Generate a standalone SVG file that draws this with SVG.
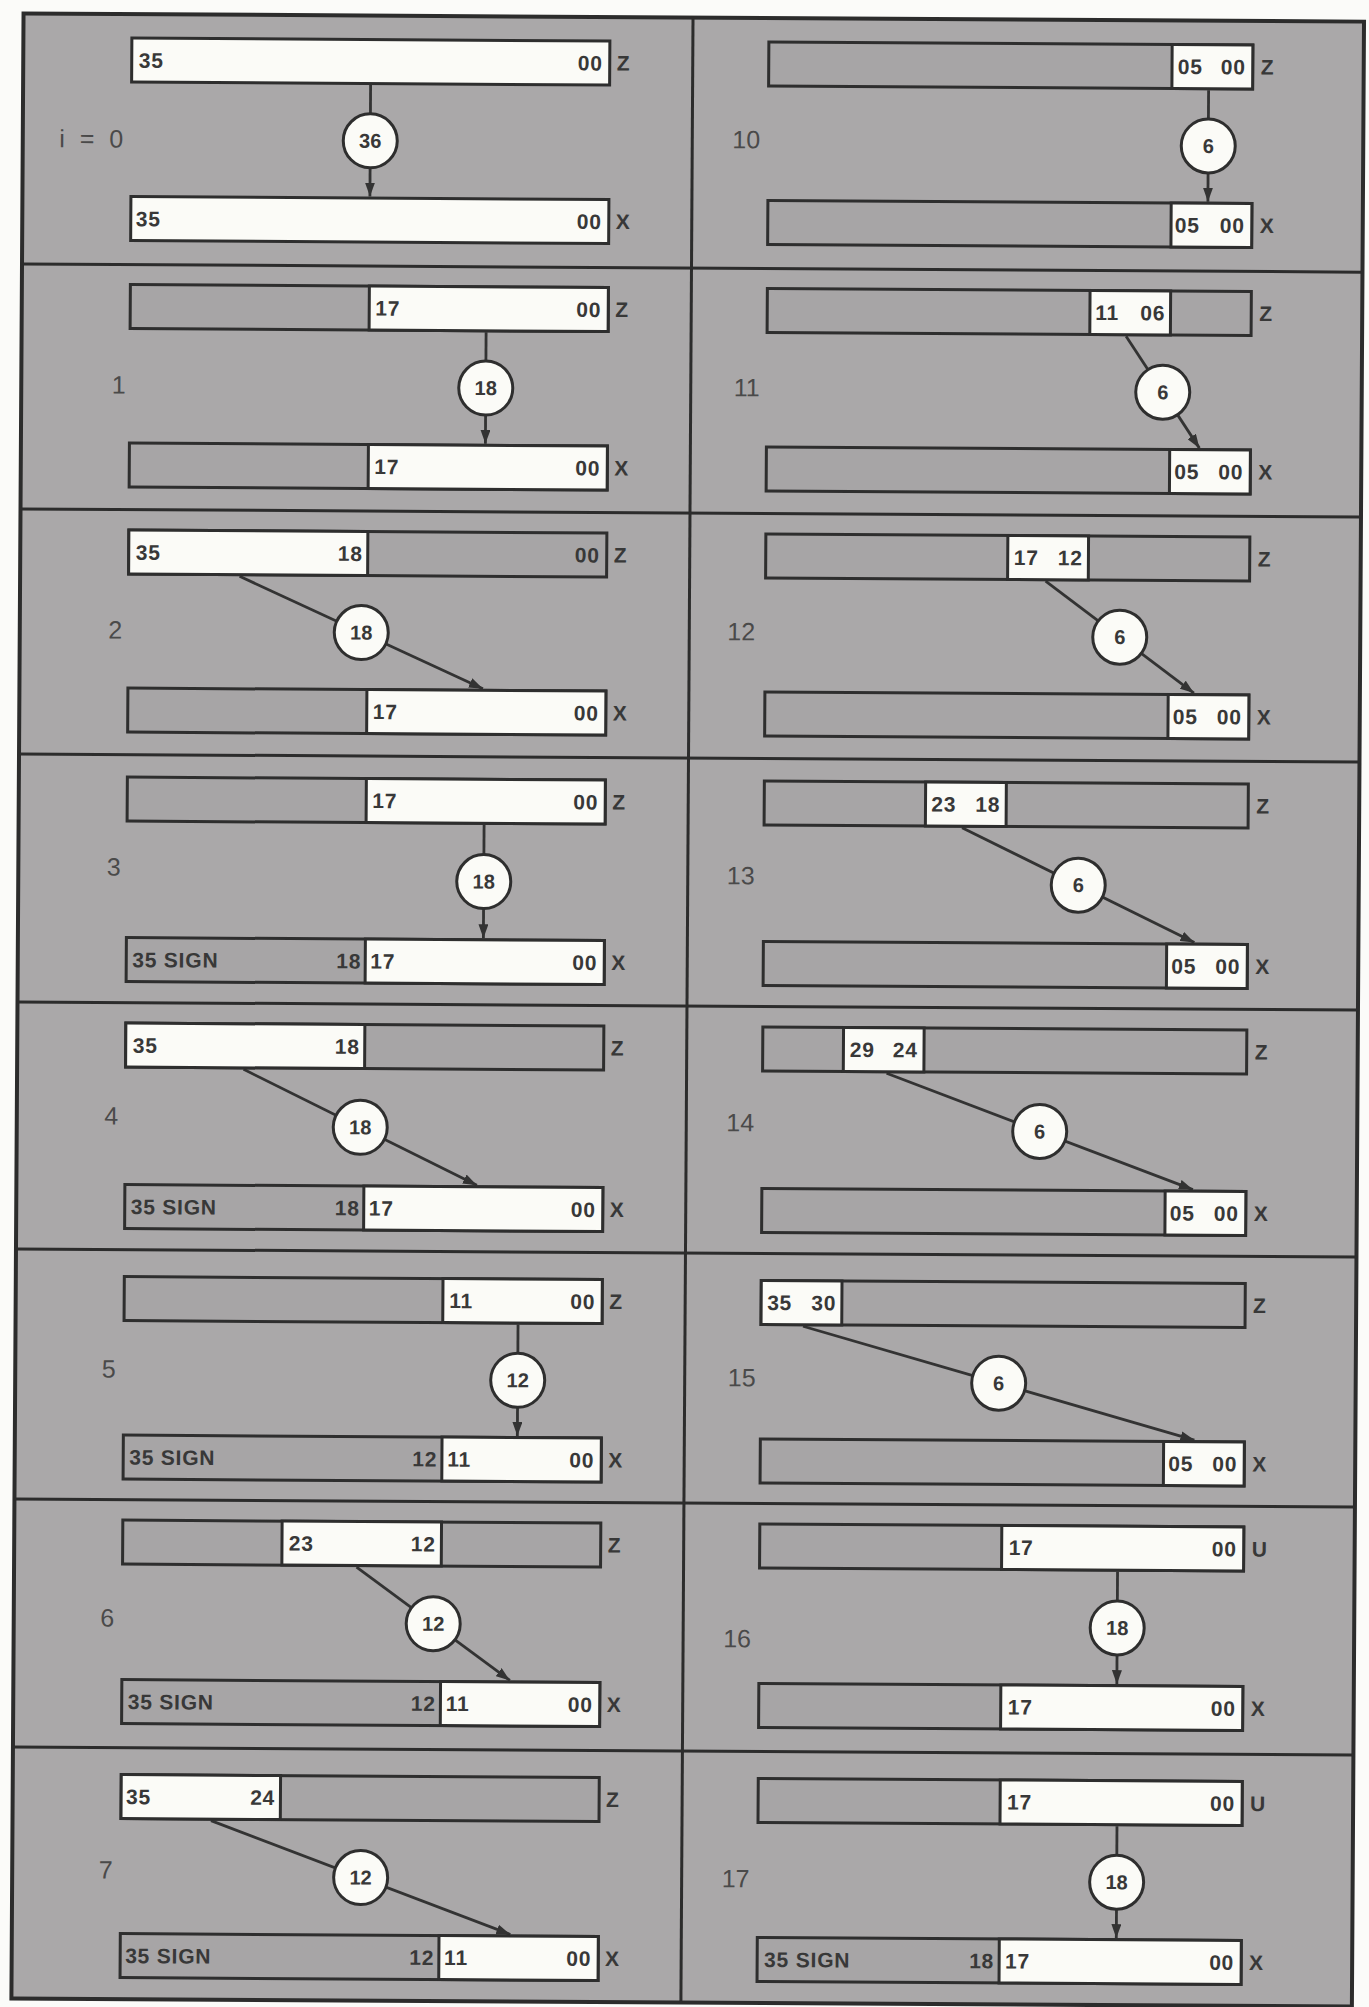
<svg xmlns="http://www.w3.org/2000/svg" width="1369" height="2007" viewBox="0 0 1369 2007">
<style>
.frame{fill:#aaa8a9;stroke:#2c2c2c;stroke-width:4}
.sep{stroke:#2c2c2c;stroke-width:3}
.g{fill:#a7a5a6;stroke:#2e2e2e;stroke-width:3}
.w{fill:#fbfbf7;stroke:#2e2e2e;stroke-width:3}
.t{font-family:"Liberation Sans",Arial,sans-serif;font-size:21px;font-weight:bold;fill:#383838;letter-spacing:0.8px}
.e{text-anchor:end}
.lbl{font-family:"Liberation Sans",Arial,sans-serif;font-size:25px;fill:#4a4a4a}
.m{text-anchor:middle}
.c{fill:#fbfbf7;stroke:#2e2e2e;stroke-width:3}
.ct{font-family:"Liberation Sans",Arial,sans-serif;font-size:20px;font-weight:bold;fill:#383838;text-anchor:middle}
.ln{stroke:#333;stroke-width:2.8;fill:none;marker-end:url(#ah)}
</style>
<defs>
<marker id="ah" markerUnits="userSpaceOnUse" markerWidth="14" markerHeight="10" refX="14" refY="5" orient="auto">
<path d="M0,0 L14,5 L0,10 z" fill="#333"/>
</marker>
</defs>
<rect x="0" y="0" width="1369" height="2007" fill="#fbfbf9"/>
<g transform="rotate(0.35 684.5 1003.5)">
<g id="frame">
<rect class="frame" x="17.5" y="17.5" width="1340.5" height="1985"/>
<line class="sep" x1="687" y1="17.5" x2="687" y2="2002.5"/>
<line class="sep" x1="17.5" y1="268" x2="1358" y2="268"/>
<line class="sep" x1="17.5" y1="513" x2="1358" y2="513"/>
<line class="sep" x1="17.5" y1="758" x2="1358" y2="758"/>
<line class="sep" x1="17.5" y1="1006" x2="1358" y2="1006"/>
<line class="sep" x1="17.5" y1="1253" x2="1358" y2="1253"/>
<line class="sep" x1="17.5" y1="1503" x2="1358" y2="1503"/>
<line class="sep" x1="17.5" y1="1751" x2="1358" y2="1751"/>
</g>

<g id="connectors">
<line class="ln" x1="365" y1="87" x2="365" y2="198.5"/>
<line class="ln" x1="482" y1="333.5" x2="482" y2="445"/>
<line class="ln" x1="237" y1="579" x2="481" y2="690"/>
<line class="ln" x1="483" y1="826" x2="483" y2="939.5"/>
<line class="ln" x1="244" y1="1072" x2="478" y2="1186.5"/>
<line class="ln" x1="520" y1="1325.5" x2="520" y2="1437"/>
<line class="ln" x1="360" y1="1569" x2="514" y2="1681.5"/>
<line class="ln" x1="216" y1="1823.5" x2="516" y2="1935.5"/>
<line class="ln" x1="1203" y1="87" x2="1203" y2="198.5"/>
<line class="ln" x1="1122" y1="333.5" x2="1196" y2="445"/>
<line class="ln" x1="1043" y1="579" x2="1192" y2="690"/>
<line class="ln" x1="961" y1="826" x2="1194" y2="939.5"/>
<line class="ln" x1="887" y1="1072" x2="1194" y2="1186.5"/>
<line class="ln" x1="805" y1="1325.5" x2="1197" y2="1437"/>
<line class="ln" x1="1121" y1="1569" x2="1121" y2="1681.5"/>
<line class="ln" x1="1122" y1="1823.5" x2="1122" y2="1935.5"/>
</g>

<g id="p0">
<text class="lbl" x="54" y="151" font-size="26" letter-spacing="4">i = 0</text>
<rect class="w" x="126" y="41.5" width="478" height="44"/>
<text class="t" x="133" y="71">35</text><text class="t e" x="597" y="71">00</text>
<text class="t" x="611" y="71">Z</text>
<rect class="w" x="126" y="200" width="478" height="44"/>
<text class="t" x="131" y="229.5">35</text><text class="t e" x="597" y="229.5">00</text>
<text class="t" x="611" y="229.5">X</text>
<circle class="c" cx="365" cy="142.75" r="27"/><text class="ct" x="365" y="149.75">36</text>
</g>

<g id="p1">
<text class="lbl m" x="115" y="397">1</text>
<rect class="g" x="126" y="288" width="478" height="44"/><rect class="w" x="365" y="288" width="239" height="44"/>
<text class="t" x="371" y="317.5">17</text><text class="t e" x="597" y="317.5">00</text>
<text class="t" x="611" y="317.5">Z</text>
<rect class="g" x="126" y="446.5" width="478" height="44"/><rect class="w" x="365" y="446.5" width="239" height="44"/>
<text class="t" x="371" y="476">17</text><text class="t e" x="597" y="476">00</text>
<text class="t" x="611" y="476">X</text>
<circle class="c" cx="482" cy="389.25" r="27"/><text class="ct" x="482" y="396.25">18</text>
</g>

<g id="p2">
<text class="lbl m" x="113" y="642">2</text>
<rect class="g" x="126" y="533.5" width="478" height="44"/><rect class="w" x="126" y="533.5" width="239" height="44"/>
<text class="t" x="133" y="563">35</text><text class="t e" x="360" y="563">18</text><text class="t e" x="597" y="563">00</text>
<text class="t" x="611" y="563">Z</text>
<rect class="g" x="126" y="691.5" width="478" height="44"/><rect class="w" x="365" y="691.5" width="239" height="44"/>
<text class="t" x="371" y="721">17</text><text class="t e" x="597" y="721">00</text>
<text class="t" x="611" y="721">X</text>
<circle class="c" cx="359" cy="634.5" r="27"/><text class="ct" x="359" y="641.5">18</text>
</g>

<g id="p3">
<text class="lbl m" x="113" y="879">3</text>
<rect class="g" x="126" y="780.5" width="478" height="44"/><rect class="w" x="365" y="780.5" width="239" height="44"/>
<text class="t" x="371" y="810">17</text><text class="t e" x="597" y="810">00</text>
<text class="t" x="611" y="810">Z</text>
<rect class="g" x="126" y="941" width="478" height="44"/><rect class="w" x="365" y="941" width="239" height="44"/>
<text class="t" x="132" y="970.5">35 SIGN</text><text class="t e" x="361" y="970.5">18</text>
<text class="t" x="370" y="970.5">17</text><text class="t e" x="597" y="970.5">00</text>
<text class="t" x="611" y="970.5">X</text>
<circle class="c" cx="483" cy="882.75" r="27"/><text class="ct" x="483" y="889.75">18</text>
</g>

<g id="p4">
<text class="lbl m" x="112" y="1128">4</text>
<rect class="g" x="126" y="1026.5" width="478" height="44"/><rect class="w" x="126" y="1026.5" width="239" height="44"/>
<text class="t" x="133" y="1056">35</text><text class="t e" x="360" y="1056">18</text>
<text class="t" x="611" y="1056">Z</text>
<rect class="g" x="126" y="1188" width="478" height="44"/><rect class="w" x="365" y="1188" width="239" height="44"/>
<text class="t" x="132" y="1217.5">35 SIGN</text><text class="t e" x="361" y="1217.5">18</text>
<text class="t" x="370" y="1217.5">17</text><text class="t e" x="597" y="1217.5">00</text>
<text class="t" x="611" y="1217.5">X</text>
<circle class="c" cx="361" cy="1129.25" r="27"/><text class="ct" x="361" y="1136.25">18</text>
</g>

<g id="p5">
<text class="lbl m" x="111" y="1381">5</text>
<rect class="g" x="126" y="1280" width="478" height="44"/><rect class="w" x="444.7" y="1280" width="159.3" height="44"/>
<text class="t" x="451" y="1309.5">11</text><text class="t e" x="597" y="1309.5">00</text>
<text class="t" x="611" y="1309.5">Z</text>
<rect class="g" x="126" y="1438.5" width="478" height="44"/><rect class="w" x="444.7" y="1438.5" width="159.3" height="44"/>
<text class="t" x="132" y="1468">35 SIGN</text><text class="t e" x="440" y="1468">12</text>
<text class="t" x="450" y="1468">11</text><text class="t e" x="597" y="1468">00</text>
<text class="t" x="611" y="1468">X</text>
<circle class="c" cx="520" cy="1381.25" r="27"/><text class="ct" x="520" y="1388.25">12</text>
</g>

<g id="p6">
<text class="lbl m" x="111" y="1630">6</text>
<rect class="g" x="126" y="1523.5" width="478" height="44"/><rect class="w" x="285.3" y="1523.5" width="159.4" height="44"/>
<text class="t" x="292" y="1553">23</text><text class="t e" x="439" y="1553">12</text>
<text class="t" x="611" y="1553">Z</text>
<rect class="g" x="126" y="1683" width="478" height="44"/><rect class="w" x="444.7" y="1683" width="159.3" height="44"/>
<text class="t" x="132" y="1712.5">35 SIGN</text><text class="t e" x="440" y="1712.5">12</text>
<text class="t" x="450" y="1712.5">11</text><text class="t e" x="597" y="1712.5">00</text>
<text class="t" x="611" y="1712.5">X</text>
<circle class="c" cx="437" cy="1625.25" r="27"/><text class="ct" x="437" y="1632.25">12</text>
</g>

<g id="p7">
<text class="lbl m" x="111" y="1882">7</text>
<rect class="g" x="126" y="1778" width="478" height="44"/><rect class="w" x="126" y="1778" width="159.3" height="44"/>
<text class="t" x="131" y="1807.5">35</text><text class="t e" x="280" y="1807.5">24</text>
<text class="t" x="611" y="1807.5">Z</text>
<rect class="g" x="126" y="1937" width="478" height="44"/><rect class="w" x="444.7" y="1937" width="159.3" height="44"/>
<text class="t" x="131" y="1966.5">35 SIGN</text><text class="t e" x="440" y="1966.5">12</text>
<text class="t" x="450" y="1966.5">11</text><text class="t e" x="597" y="1966.5">00</text>
<text class="t" x="611" y="1966.5">X</text>
<circle class="c" cx="366" cy="1879.5" r="27"/><text class="ct" x="366" y="1886.5">12</text>
</g>

<g id="p10">
<text class="lbl m" x="741" y="148">10</text>
<rect class="g" x="763" y="41.5" width="484" height="44"/><rect class="w" x="1166.3" y="41.5" width="80.7" height="44"/>
<text class="t" x="1172" y="71">05</text><text class="t e" x="1240" y="71">00</text>
<text class="t" x="1255" y="71">Z</text>
<rect class="g" x="763" y="200" width="484" height="44"/><rect class="w" x="1166.3" y="200" width="80.7" height="44"/>
<text class="t" x="1170" y="229.5">05</text><text class="t e" x="1240" y="229.5">00</text>
<text class="t" x="1255" y="229.5">X</text>
<circle class="c" cx="1203" cy="142.75" r="27"/><text class="ct" x="1203" y="149.75">6</text>
</g>

<g id="p11">
<text class="lbl m" x="743" y="396">11</text>
<rect class="g" x="763" y="288" width="484" height="44"/><rect class="w" x="1085.7" y="288" width="80.6" height="44"/>
<text class="t" x="1091" y="317.5">11</text><text class="t e" x="1161" y="317.5">06</text>
<text class="t" x="1255" y="317.5">Z</text>
<rect class="g" x="763" y="446.5" width="484" height="44"/><rect class="w" x="1166.3" y="446.5" width="80.7" height="44"/>
<text class="t" x="1171" y="476">05</text><text class="t e" x="1240" y="476">00</text>
<text class="t" x="1255" y="476">X</text>
<circle class="c" cx="1159" cy="389.25" r="27"/><text class="ct" x="1159" y="396.25">6</text>
</g>

<g id="p12">
<text class="lbl m" x="739" y="640">12</text>
<rect class="g" x="763" y="533.5" width="484" height="44"/><rect class="w" x="1005" y="533.5" width="80.7" height="44"/>
<text class="t" x="1011" y="563">17</text><text class="t e" x="1080" y="563">12</text>
<text class="t" x="1255" y="563">Z</text>
<rect class="g" x="763" y="691.5" width="484" height="44"/><rect class="w" x="1166.3" y="691.5" width="80.7" height="44"/>
<text class="t" x="1171" y="721">05</text><text class="t e" x="1240" y="721">00</text>
<text class="t" x="1255" y="721">X</text>
<circle class="c" cx="1117.5" cy="634.5" r="27"/><text class="ct" x="1117.5" y="641.5">6</text>
</g>

<g id="p13">
<text class="lbl m" x="740" y="884">13</text>
<rect class="g" x="763" y="780.5" width="484" height="44"/><rect class="w" x="924.3" y="780.5" width="80.7" height="44"/>
<text class="t" x="930" y="810">23</text><text class="t e" x="999" y="810">18</text>
<text class="t" x="1255" y="810">Z</text>
<rect class="g" x="763" y="941" width="484" height="44"/><rect class="w" x="1166.3" y="941" width="80.7" height="44"/>
<text class="t" x="1171" y="970.5">05</text><text class="t e" x="1240" y="970.5">00</text>
<text class="t" x="1255" y="970.5">X</text>
<circle class="c" cx="1077.5" cy="882.75" r="27"/><text class="ct" x="1077.5" y="889.75">6</text>
</g>

<g id="p14">
<text class="lbl m" x="741" y="1131">14</text>
<rect class="g" x="763" y="1026.5" width="484" height="44"/><rect class="w" x="843.7" y="1026.5" width="80.6" height="44"/>
<text class="t" x="850" y="1056">29</text><text class="t e" x="918" y="1056">24</text>
<text class="t" x="1255" y="1056">Z</text>
<rect class="g" x="763" y="1188" width="484" height="44"/><rect class="w" x="1166.3" y="1188" width="80.7" height="44"/>
<text class="t" x="1171" y="1217.5">05</text><text class="t e" x="1240" y="1217.5">00</text>
<text class="t" x="1255" y="1217.5">X</text>
<circle class="c" cx="1040.5" cy="1129.25" r="27"/><text class="ct" x="1040.5" y="1136.25">6</text>
</g>

<g id="p15">
<text class="lbl m" x="744" y="1386">15</text>
<rect class="g" x="763" y="1280" width="484" height="44"/><rect class="w" x="763" y="1280" width="80.7" height="44"/>
<text class="t" x="769" y="1309.5">35</text><text class="t e" x="838" y="1309.5">30</text>
<text class="t" x="1255" y="1309.5">Z</text>
<rect class="g" x="763" y="1438.5" width="484" height="44"/><rect class="w" x="1166.3" y="1438.5" width="80.7" height="44"/>
<text class="t" x="1171" y="1468">05</text><text class="t e" x="1240" y="1468">00</text>
<text class="t" x="1255" y="1468">X</text>
<circle class="c" cx="1001" cy="1381.25" r="27"/><text class="ct" x="1001" y="1388.25">6</text>
</g>

<g id="p16">
<text class="lbl m" x="741" y="1647">16</text>
<rect class="g" x="763" y="1523.5" width="484" height="44"/><rect class="w" x="1005" y="1523.5" width="242" height="44"/>
<text class="t" x="1012" y="1553">17</text><text class="t e" x="1240" y="1553">00</text>
<text class="t" x="1255" y="1553">U</text>
<rect class="g" x="763" y="1683" width="484" height="44"/><rect class="w" x="1005" y="1683" width="242" height="44"/>
<text class="t" x="1012" y="1712.5">17</text><text class="t e" x="1240" y="1712.5">00</text>
<text class="t" x="1255" y="1712.5">X</text>
<circle class="c" cx="1121" cy="1625.25" r="27"/><text class="ct" x="1121" y="1632.25">18</text>
</g>

<g id="p17">
<text class="lbl m" x="741" y="1887">17</text>
<rect class="g" x="763" y="1778" width="484" height="44"/><rect class="w" x="1005" y="1778" width="242" height="44"/>
<text class="t" x="1012" y="1807.5">17</text><text class="t e" x="1240" y="1807.5">00</text>
<text class="t" x="1255" y="1807.5">U</text>
<rect class="g" x="763" y="1937" width="484" height="44"/><rect class="w" x="1005" y="1937" width="242" height="44"/>
<text class="t" x="770" y="1966.5">35 SIGN</text><text class="t e" x="1000" y="1966.5">18</text>
<text class="t" x="1011" y="1966.5">17</text><text class="t e" x="1240" y="1966.5">00</text>
<text class="t" x="1255" y="1966.5">X</text>
<circle class="c" cx="1122" cy="1879.5" r="27"/><text class="ct" x="1122" y="1886.5">18</text>
</g>
</g>
</svg>
